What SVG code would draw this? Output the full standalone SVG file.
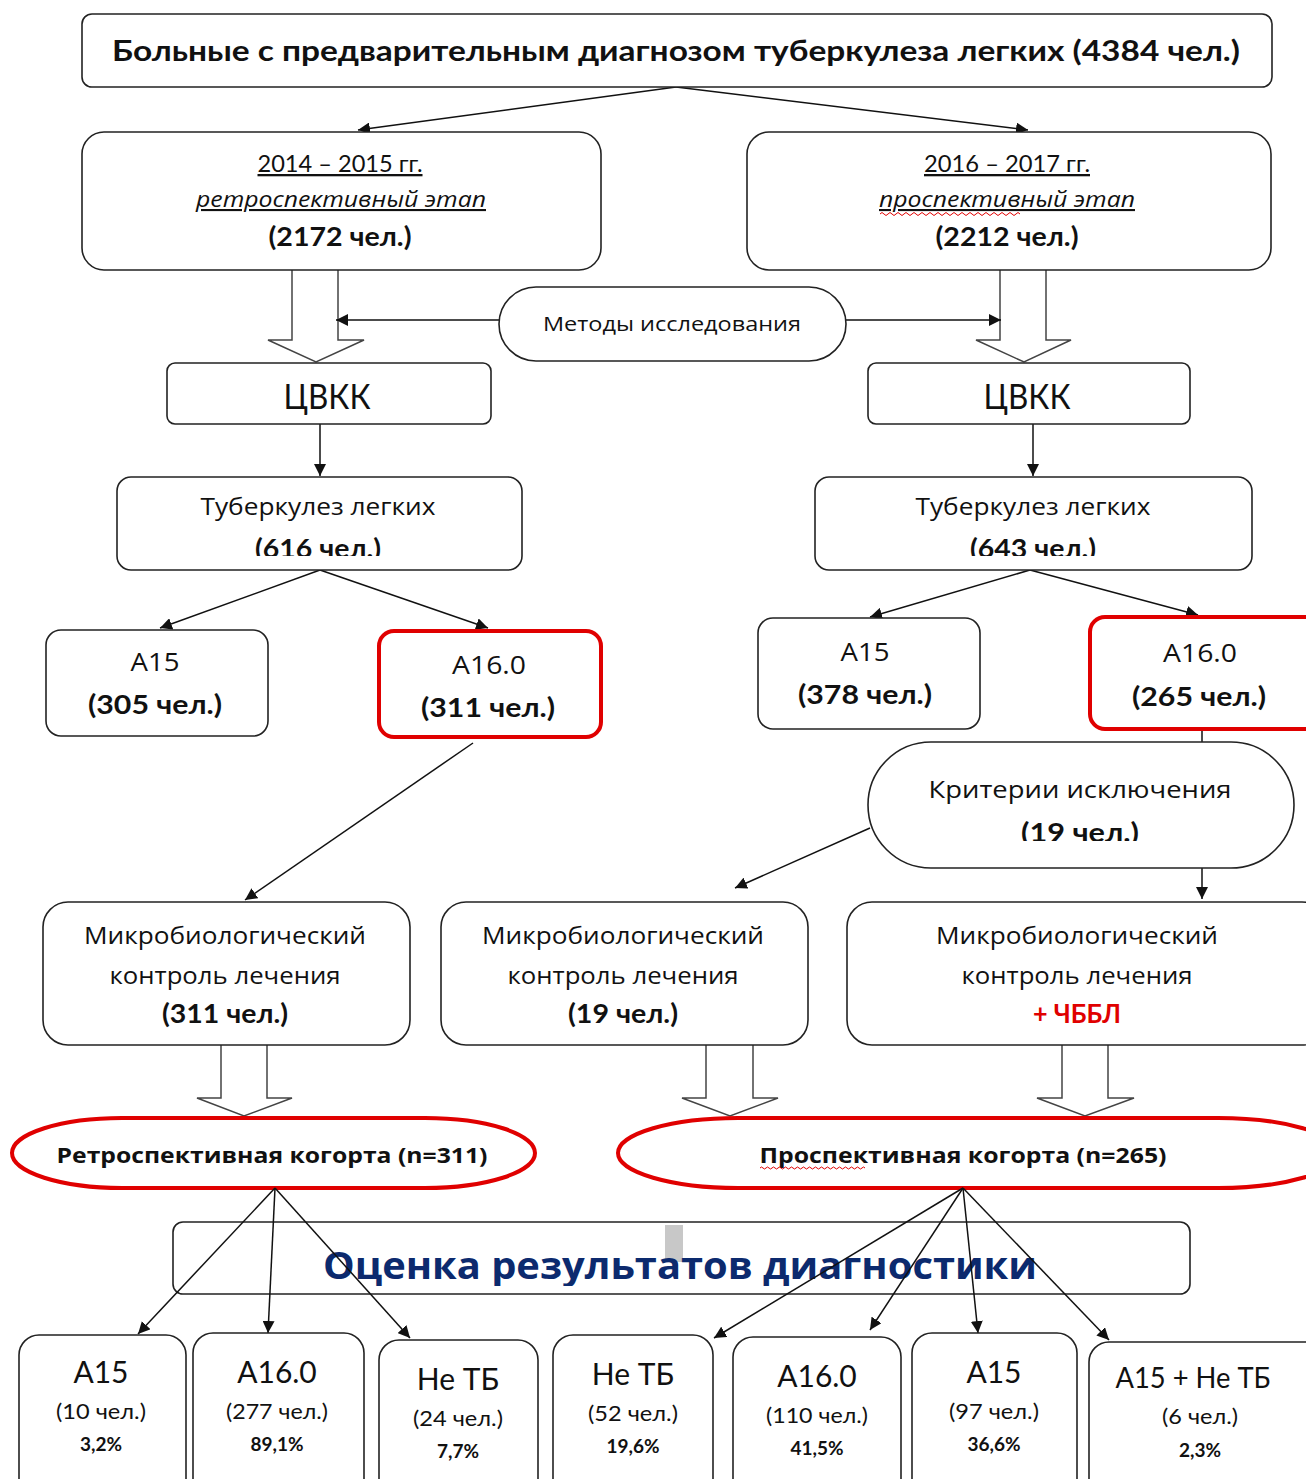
<svg xmlns="http://www.w3.org/2000/svg" width="1306" height="1479" viewBox="0 0 1306 1479">
<defs>
<style>
.box{fill:#fff;stroke:#222;stroke-width:1.6}
.red{fill:#fff;stroke:#e00000;stroke-width:4}
.blk{fill:#fff;stroke:#444;stroke-width:1.5}
.c{stroke:#111;stroke-width:1.5;fill:none}
text{font-family:Lato,"Liberation Sans",sans-serif;fill:#111;text-anchor:middle}
.b{font-weight:bold}
.os{font-family:"Open Sans","Noto Sans",sans-serif}
</style>
<marker id="ah" markerWidth="14" markerHeight="12" refX="12" refY="6" orient="auto" markerUnits="userSpaceOnUse">
<path d="M0,0 L12,6 L0,12 z" fill="#111"/>
</marker>
<clipPath id="c1"><rect x="110" y="470" width="420" height="86"/></clipPath>
<clipPath id="c2"><rect x="810" y="470" width="450" height="86"/></clipPath>
<clipPath id="c3"><rect x="860" y="740" width="440" height="101"/></clipPath>
<clipPath id="c4"><rect x="170" y="1220" width="1025" height="66"/></clipPath>
</defs>
<rect width="1306" height="1479" fill="#fff"/>

<g id="connectors">
<line class="c" x1="676" y1="87" x2="358" y2="130" marker-end="url(#ah)"/>
<line class="c" x1="676" y1="87" x2="1028" y2="130" marker-end="url(#ah)"/>
<path class="blk" d="M292,270 V340 H268 L316,362 L364,340 H338 V270"/>
<path class="blk" d="M1000,270 V340 H976 L1024,362 L1071,340 H1046 V270"/>
<line class="c" x1="499" y1="320" x2="336" y2="320" marker-end="url(#ah)"/>
<line class="c" x1="846" y1="320" x2="1001" y2="320" marker-end="url(#ah)"/>
<line class="c" x1="320" y1="424" x2="320" y2="476" marker-end="url(#ah)"/>
<line class="c" x1="1033" y1="424" x2="1033" y2="476" marker-end="url(#ah)"/>
<line class="c" x1="320" y1="570" x2="160" y2="628" marker-end="url(#ah)"/>
<line class="c" x1="320" y1="570" x2="488" y2="628" marker-end="url(#ah)"/>
<line class="c" x1="1030" y1="570" x2="870" y2="617" marker-end="url(#ah)"/>
<line class="c" x1="1030" y1="570" x2="1198" y2="615" marker-end="url(#ah)"/>
<line class="c" x1="1202" y1="729" x2="1202" y2="742"/>
<line class="c" x1="473" y1="743" x2="245" y2="900" marker-end="url(#ah)"/>
<line class="c" x1="870" y1="828" x2="735" y2="888" marker-end="url(#ah)"/>
<line class="c" x1="1202" y1="868" x2="1202" y2="899" marker-end="url(#ah)"/>
<path class="blk" d="M221,1045 V1098 H197 L244,1116 L292,1098 H267 V1045"/>
<path class="blk" d="M706,1045 V1098 H682 L730,1116 L778,1098 H753 V1045"/>
<path class="blk" d="M1062,1045 V1098 H1037 L1085,1116 L1134,1098 H1108 V1045"/>
</g>

<g id="n-top">
<rect class="box" x="82" y="14" width="1190" height="73" rx="10"/>
<text class="b" x="676" y="61" font-size="29" textLength="1128" lengthAdjust="spacingAndGlyphs">Больные  с предварительным  диагнозом туберкулеза  легких (4384 чел.)</text>
</g>

<g id="n-retro">
<rect class="box" x="82" y="132" width="519" height="138" rx="22"/>
<text x="340" y="172" font-size="23" text-decoration="underline" textLength="165" lengthAdjust="spacingAndGlyphs">2014  – 2015  гг.</text>
<text class="os" x="341" y="207" font-size="21" font-style="italic" text-decoration="underline" textLength="290" lengthAdjust="spacingAndGlyphs">ретроспективный этап</text>
<text class="b" x="340" y="246" font-size="26" textLength="143" lengthAdjust="spacingAndGlyphs">(2172 чел.)</text>
</g>

<g id="n-prosp">
<rect class="box" x="747" y="132" width="524" height="138" rx="22"/>
<text x="1007" y="172" font-size="23" text-decoration="underline" textLength="166" lengthAdjust="spacingAndGlyphs">2016  – 2017  гг.</text>
<text class="os" x="1007" y="207" font-size="21" font-style="italic" text-decoration="underline" textLength="256" lengthAdjust="spacingAndGlyphs">проспективный этап</text>
<path d="M880,214 q2,-3 4,0 t4,0 t4,0 t4,0 t4,0 t4,0 t4,0 t4,0 t4,0 t4,0 t4,0 t4,0 t4,0 t4,0 t4,0 t4,0 t4,0 t4,0 t4,0 t4,0 t4,0 t4,0 t4,0 t4,0 t4,0 t4,0 t4,0 t4,0 t4,0 t4,0 t4,0 t4,0 t4,0 t4,0 t4,0" fill="none" stroke="#e00000" stroke-width="1"/>
<text class="b" x="1007" y="246" font-size="26" textLength="143" lengthAdjust="spacingAndGlyphs">(2212 чел.)</text>
</g>

<g id="n-methods">
<rect class="box" x="499" y="287" width="347" height="74" rx="37"/>
<text class="os" x="672" y="331" font-size="20" textLength="258" lengthAdjust="spacingAndGlyphs">Методы исследования</text>
</g>

<g id="n-cvkk1">
<rect class="box" x="167" y="363" width="324" height="61" rx="8"/>
<text x="327" y="409" font-size="34" textLength="87" lengthAdjust="spacingAndGlyphs">ЦВКК</text>
</g>
<g id="n-cvkk2">
<rect class="box" x="868" y="363" width="322" height="61" rx="8"/>
<text x="1027" y="409" font-size="34" textLength="87" lengthAdjust="spacingAndGlyphs">ЦВКК</text>
</g>

<g id="n-tb1">
<rect class="box" x="117" y="477" width="405" height="93" rx="14"/>
<text class="os" x="318" y="515" font-size="23" textLength="235" lengthAdjust="spacingAndGlyphs">Туберкулез легких</text>
<text class="b" x="318" y="558" font-size="26" clip-path="url(#c1)" textLength="126" lengthAdjust="spacingAndGlyphs">(616 чел.)</text>
</g>
<g id="n-tb2">
<rect class="box" x="815" y="477" width="437" height="93" rx="14"/>
<text class="os" x="1033" y="515" font-size="23" textLength="235" lengthAdjust="spacingAndGlyphs">Туберкулез легких</text>
<text class="b" x="1033" y="558" font-size="26" clip-path="url(#c2)" textLength="126" lengthAdjust="spacingAndGlyphs">(643 чел.)</text>
</g>

<g id="n-a15-1">
<rect class="box" x="46" y="630" width="222" height="106" rx="15"/>
<text class="os" x="155" y="671" font-size="25" textLength="49" lengthAdjust="spacingAndGlyphs">А15</text>
<text class="b" x="155" y="714" font-size="26" textLength="134" lengthAdjust="spacingAndGlyphs">(305 чел.)</text>
</g>
<g id="n-a160-1">
<rect class="red" x="379" y="631" width="222" height="106" rx="15"/>
<text class="os" x="489" y="674" font-size="25" textLength="74" lengthAdjust="spacingAndGlyphs">А16.0</text>
<text class="b" x="488" y="717" font-size="26" textLength="134" lengthAdjust="spacingAndGlyphs">(311 чел.)</text>
</g>
<g id="n-a15-2">
<rect class="box" x="758" y="618" width="222" height="111" rx="15"/>
<text class="os" x="865" y="661" font-size="25" textLength="49" lengthAdjust="spacingAndGlyphs">А15</text>
<text class="b" x="865" y="704" font-size="26" textLength="134" lengthAdjust="spacingAndGlyphs">(378 чел.)</text>
</g>
<g id="n-a160-2">
<rect class="red" x="1090" y="617" width="230" height="112" rx="15"/>
<text class="os" x="1200" y="662" font-size="25" textLength="74" lengthAdjust="spacingAndGlyphs">А16.0</text>
<text class="b" x="1199" y="706" font-size="26" textLength="134" lengthAdjust="spacingAndGlyphs">(265 чел.)</text>
</g>

<g id="n-excl">
<rect class="box" x="868" y="742" width="426" height="126" rx="63"/>
<text class="os" x="1080" y="798" font-size="23" textLength="303" lengthAdjust="spacingAndGlyphs">Критерии исключения</text>
<text class="b" x="1080" y="842" font-size="26" clip-path="url(#c3)" textLength="118" lengthAdjust="spacingAndGlyphs">(19 чел.)</text>
</g>

<g id="n-micro1">
<rect class="box" x="43" y="902" width="367" height="143" rx="25"/>
<text class="os" x="225" y="944" font-size="24" textLength="282" lengthAdjust="spacingAndGlyphs">Микробиологический</text>
<text class="os" x="225" y="984" font-size="24" textLength="231" lengthAdjust="spacingAndGlyphs">контроль лечения</text>
<text class="b" x="225" y="1023" font-size="26" textLength="126" lengthAdjust="spacingAndGlyphs">(311 чел.)</text>
</g>
<g id="n-micro2">
<rect class="box" x="441" y="902" width="367" height="143" rx="25"/>
<text class="os" x="623" y="944" font-size="24" textLength="282" lengthAdjust="spacingAndGlyphs">Микробиологический</text>
<text class="os" x="623" y="984" font-size="24" textLength="231" lengthAdjust="spacingAndGlyphs">контроль лечения</text>
<text class="b" x="623" y="1023" font-size="26" textLength="110" lengthAdjust="spacingAndGlyphs">(19 чел.)</text>
</g>
<g id="n-micro3">
<rect class="box" x="847" y="902" width="480" height="143" rx="25"/>
<text class="os" x="1077" y="944" font-size="24" textLength="282" lengthAdjust="spacingAndGlyphs">Микробиологический</text>
<text class="os" x="1077" y="984" font-size="24" textLength="231" lengthAdjust="spacingAndGlyphs">контроль лечения</text>
<text class="b" x="1077" y="1023" font-size="26" style="fill:#e00000" textLength="88" lengthAdjust="spacingAndGlyphs">+ ЧББЛ</text>
</g>

<g id="n-coh1">
<rect class="red" x="12" y="1118" width="523" height="70" rx="110" ry="35"/>
<text class="os b" x="272" y="1163" font-size="21" textLength="431" lengthAdjust="spacingAndGlyphs">Ретроспективная когорта (n=311)</text>
</g>
<g id="n-coh2">
<rect class="red" x="618" y="1118" width="720" height="70" rx="120" ry="35"/>
<text class="os b" x="963" y="1163" font-size="21" textLength="407" lengthAdjust="spacingAndGlyphs">Проспективная когорта (n=265)</text>
<path d="M760,1168 q1.5,-2 3,0 t3,0 t3,0 t3,0 t3,0 t3,0 t3,0 t3,0 t3,0 t3,0 t3,0 t3,0 t3,0 t3,0 t3,0 t3,0 t3,0 t3,0 t3,0 t3,0 t3,0 t3,0 t3,0 t3,0 t3,0 t3,0 t3,0 t3,0 t3,0 t3,0 t3,0 t3,0 t3,0 t3,0 t3,0" fill="none" stroke="#e00000" stroke-width="1"/>
</g>

<g id="n-eval">
<rect class="box" x="173" y="1222" width="1017" height="72" rx="10"/>
<rect x="665" y="1225" width="18" height="37" fill="#c8c8c8"/>
<text class="os b" x="680" y="1279" font-size="37" style="fill:#0c2a6e" clip-path="url(#c4)" textLength="714" lengthAdjust="spacingAndGlyphs">Оценка результатов диагностики</text>
</g>

<g id="connectors-bottom">
<line class="c" x1="275" y1="1188" x2="138" y2="1334" marker-end="url(#ah)"/>
<line class="c" x1="275" y1="1188" x2="268" y2="1333" marker-end="url(#ah)"/>
<line class="c" x1="275" y1="1188" x2="410" y2="1338" marker-end="url(#ah)"/>
<line class="c" x1="963" y1="1188" x2="714" y2="1338" marker-end="url(#ah)"/>
<line class="c" x1="963" y1="1188" x2="870" y2="1330" marker-end="url(#ah)"/>
<line class="c" x1="963" y1="1188" x2="978" y2="1333" marker-end="url(#ah)"/>
<line class="c" x1="963" y1="1188" x2="1109" y2="1340" marker-end="url(#ah)"/>
</g>

<g id="n-r1">
<rect class="box" x="19" y="1335" width="167" height="170" rx="20"/>
<text x="101" y="1383" font-size="30">А15</text>
<text x="101" y="1419" font-size="22" textLength="90" lengthAdjust="spacingAndGlyphs">(10 чел.)</text>
<text class="b" x="101" y="1451" font-size="19">3,2%</text>
</g>
<g id="n-r2">
<rect class="box" x="193" y="1333" width="171" height="170" rx="20"/>
<text x="277" y="1383" font-size="30">А16.0</text>
<text x="277" y="1419" font-size="22" textLength="102" lengthAdjust="spacingAndGlyphs">(277 чел.)</text>
<text class="b" x="277" y="1451" font-size="19">89,1%</text>
</g>
<g id="n-r3">
<rect class="box" x="379" y="1340" width="159" height="170" rx="20"/>
<text x="458" y="1390" font-size="30">Не ТБ</text>
<text x="458" y="1426" font-size="22" textLength="90" lengthAdjust="spacingAndGlyphs">(24 чел.)</text>
<text class="b" x="458" y="1458" font-size="19">7,7%</text>
</g>
<g id="n-r4">
<rect class="box" x="553" y="1335" width="160" height="170" rx="20"/>
<text x="633" y="1385" font-size="30">Не ТБ</text>
<text x="633" y="1421" font-size="22" textLength="90" lengthAdjust="spacingAndGlyphs">(52 чел.)</text>
<text class="b" x="633" y="1453" font-size="19">19,6%</text>
</g>
<g id="n-r5">
<rect class="box" x="733" y="1337" width="168" height="170" rx="20"/>
<text x="817" y="1387" font-size="30">А16.0</text>
<text x="817" y="1423" font-size="22" textLength="102" lengthAdjust="spacingAndGlyphs">(110 чел.)</text>
<text class="b" x="817" y="1455" font-size="19">41,5%</text>
</g>
<g id="n-r6">
<rect class="box" x="912" y="1333" width="165" height="170" rx="20"/>
<text x="994" y="1383" font-size="30">А15</text>
<text x="994" y="1419" font-size="22" textLength="90" lengthAdjust="spacingAndGlyphs">(97 чел.)</text>
<text class="b" x="994" y="1451" font-size="19">36,6%</text>
</g>
<g id="n-r7">
<rect class="box" x="1089" y="1342" width="240" height="170" rx="20"/>
<text x="1193" y="1388" font-size="28" textLength="155" lengthAdjust="spacingAndGlyphs">А15 + Не ТБ</text>
<text x="1200" y="1424" font-size="22" textLength="76" lengthAdjust="spacingAndGlyphs">(6 чел.)</text>
<text class="b" x="1200" y="1457" font-size="19">2,3%</text>
</g>
</svg>
